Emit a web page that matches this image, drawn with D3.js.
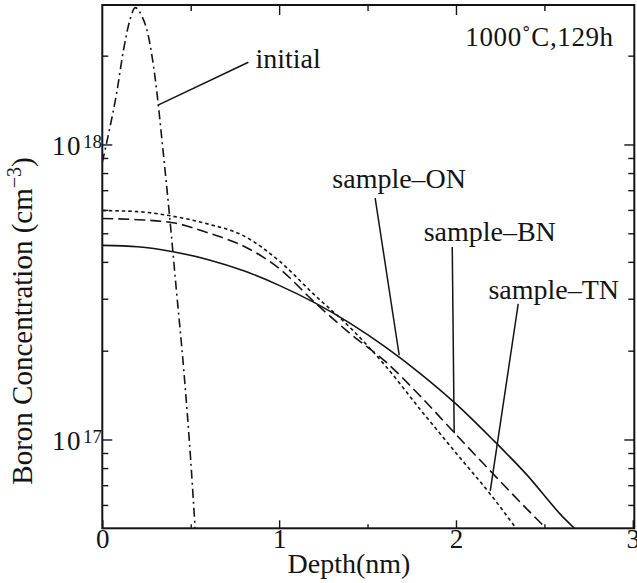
<!DOCTYPE html>
<html><head><meta charset="utf-8">
<script src="https://cdn.jsdelivr.net/npm/d3@7"></script>
<style>
html,body{margin:0;padding:0;background:#fff}
svg{display:block}
</style>
</head><body>
<svg id="chart" width="637" height="583" font-family="'Liberation Serif', 'DejaVu Serif', 'Times New Roman', serif"></svg>
<script>
// ---- data ----
const depthInitial = [0, 0.04, 0.08, 0.12, 0.16, 0.186, 0.22, 0.26, 0.30, 0.34, 0.38, 0.42, 0.46, 0.50, 0.525];
const concInitial  = [8.7e17, 1.12e18, 1.48e18, 2.09e18, 2.69e18, 2.91e18, 2.75e18, 2.34e18, 1.66e18, 1.0e18, 5.75e17, 3.16e17, 1.74e17, 8.5e16, 5.0e16];

const depthON = [0, 0.2, 0.4, 0.6, 0.8, 1.0, 1.2, 1.4, 1.6, 1.8, 2.0, 2.2, 2.4, 2.6, 2.67];
const concON  = [4.55e17, 4.50e17, 4.33e17, 4.07e17, 3.73e17, 3.33e17, 2.91e17, 2.48e17, 2.06e17, 1.67e17, 1.32e17, 1.01e17, 7.6e16, 5.5e16, 5.0e16];

const depthBN = [0, 0.2, 0.4, 0.6, 0.8, 1.0, 1.2, 1.4, 1.6, 1.8, 2.0, 2.2, 2.4, 2.51];
const concBN  = [5.61e17, 5.56e17, 5.43e17, 5.01e17, 4.52e17, 3.80e17, 2.92e17, 2.29e17, 1.84e17, 1.40e17, 1.04e17, 7.76e16, 5.82e16, 5.0e16];

const depthTN = [0, 0.2, 0.4, 0.6, 0.8, 1.0, 1.2, 1.4, 1.6, 1.8, 2.0, 2.2, 2.34];
const concTN  = [5.97e17, 5.92e17, 5.71e17, 5.37e17, 4.90e17, 4.03e17, 3.09e17, 2.40e17, 1.78e17, 1.26e17, 9.0e16, 6.46e16, 5.0e16];

const xTicks = [0, 1, 2, 3];
const xMinorTicks = [0.5, 1.5, 2.5];
const yMajorTicks = [1e17, 1e18];
const yMinorTicks = [6e16, 7e16, 8e16, 9e16, 2e17, 3e17, 4e17, 5e17, 6e17, 7e17, 8e17, 9e17, 2e18];

const xTitle = "Depth(nm)";
const yTitle = "Boron Concentration (cm";
const conditionLabel = "1000\u02DAC,129h";

// annotation: label text, label anchor [depth, conc], leader from [depth, conc] to [depth, conc]
const annotations = [
  { text: "initial",   anchor: "start",  at: [0.866, 1.82e18], from: [0.826, 1.90e18], to: [0.315, 1.36e18] },
  { text: "sample\u2013ON", anchor: "middle", at: [1.679, 7.11e17], from: [1.543, 6.58e17], to: [1.679, 1.93e17] },
  { text: "sample\u2013BN", anchor: "middle", at: [2.191, 4.70e17], from: [1.979, 4.49e17], to: [1.990, 1.05e17] },
  { text: "sample\u2013TN", anchor: "middle", at: [2.553, 2.99e17], from: [2.352, 2.88e17], to: [2.194, 6.70e16] }
];

// ---- layout ----
const FONT = "'Liberation Serif', 'DejaVu Serif', 'Times New Roman', serif";
const INK = "#141414";
const svg = d3.select("#chart");
const L = 102.3, R = 632.8, T = 5, B = 528.3;
const x = d3.scaleLinear().domain([0, 3]).range([L, R]);
const y = d3.scaleLog().domain([5e16, 2.97e18]).range([B, T]);

function txt(sel) { return sel.attr("font-family", FONT).attr("fill", INK); }

svg.append("defs").append("clipPath").attr("id", "plotclip")
  .append("rect").attr("x", L).attr("y", T).attr("width", R - L + 2).attr("height", B - T);

// series
const series = [
  { d: depthInitial, c: concInitial, dash: "9,4,2,4" },
  { d: depthON, c: concON, dash: null },
  { d: depthBN, c: concBN, dash: "11,5" },
  { d: depthTN, c: concTN, dash: "3.5,3" }
];
const line = d3.line().x(p => x(p[0])).y(p => y(p[1])).curve(d3.curveMonotoneX);
const g = svg.append("g").attr("clip-path", "url(#plotclip)");
series.forEach(s => {
  const pts = s.d.map((v, i) => [v, s.c[i]]);
  g.append("path").datum(pts).attr("d", line)
    .attr("fill", "none").attr("stroke", INK).attr("stroke-width", 1.6)
    .attr("stroke-dasharray", s.dash);
});

// axes ticks (inward)
function axisG(axis, tx, ty) {
  const a = svg.append("g").attr("transform", `translate(${tx},${ty})`).call(axis);
  a.select(".domain").remove();
  a.selectAll("line").attr("stroke", INK).attr("stroke-width", 1.4);
  return a;
}
axisG(d3.axisLeft(y).tickValues(yMajorTicks).tickSize(-10).tickFormat(""), L, 0);
axisG(d3.axisLeft(y).tickValues(yMinorTicks).tickSize(-6).tickFormat(""), L, 0);
axisG(d3.axisRight(y).tickValues(yMajorTicks).tickSize(-10).tickFormat(""), R + 1.5, 0);
axisG(d3.axisRight(y).tickValues(yMinorTicks).tickSize(-6).tickFormat(""), R + 1.5, 0);
axisG(d3.axisTop(x).tickValues(xTicks.slice(1, 3)).tickSize(-10).tickFormat(""), 0, T);
axisG(d3.axisTop(x).tickValues(xMinorTicks).tickSize(-6).tickFormat(""), 0, T);
const bx = axisG(d3.axisBottom(x).tickValues(xTicks).tickSize(-8).tickFormat(d3.format("d")), 0, B);
txt(bx.selectAll("text")).attr("y", 20).attr("dy", 0).attr("font-size", 27);
bx.attr("font-family", null).attr("font-size", null);
axisG(d3.axisBottom(x).tickValues(xMinorTicks).tickSize(-4).tickFormat(""), 0, B);

// frame
svg.append("rect").attr("x", L).attr("y", T).attr("width", R - L + 1.5).attr("height", B - T)
  .attr("fill", "none").attr("stroke", INK).attr("stroke-width", 2);

// y tick labels 10^n
yMajorTicks.forEach(v => {
  const yy = y(v);
  txt(svg.append("text")).attr("x", 82).attr("y", yy + 11).attr("text-anchor", "end")
    .attr("font-size", 27).attr("letter-spacing", 1.5).text("10");
  txt(svg.append("text")).attr("x", 83).attr("y", yy + 4).attr("text-anchor", "start")
    .attr("font-size", 19).text(String(Math.round(Math.log10(v))));
});

// x title
txt(svg.append("text")).attr("x", 349).attr("y", 573).attr("text-anchor", "middle")
  .attr("font-size", 28).text(xTitle);

// y title
const yt = txt(svg.append("text")).attr("transform", "translate(32,321) rotate(-90)")
  .attr("text-anchor", "middle").attr("font-size", 29);
yt.append("tspan").text(yTitle);
yt.append("tspan").attr("font-size", 20).attr("dy", -11).text("\u22123");
yt.append("tspan").attr("dy", 11).text(")");

// condition label
txt(svg.append("text")).attr("x", x(2.053)).attr("y", y(2.15e18)).attr("font-size", 27)
  .attr("letter-spacing", 0.6).text(conditionLabel);

// annotations
annotations.forEach(a => {
  svg.append("line")
    .attr("x1", x(a.from[0])).attr("y1", y(a.from[1]))
    .attr("x2", x(a.to[0])).attr("y2", y(a.to[1]))
    .attr("stroke", INK).attr("stroke-width", 1.5);
  txt(svg.append("text")).attr("x", x(a.at[0])).attr("y", y(a.at[1]))
    .attr("text-anchor", a.anchor).attr("font-size", 28).text(a.text);
});
</script>
</body></html>
